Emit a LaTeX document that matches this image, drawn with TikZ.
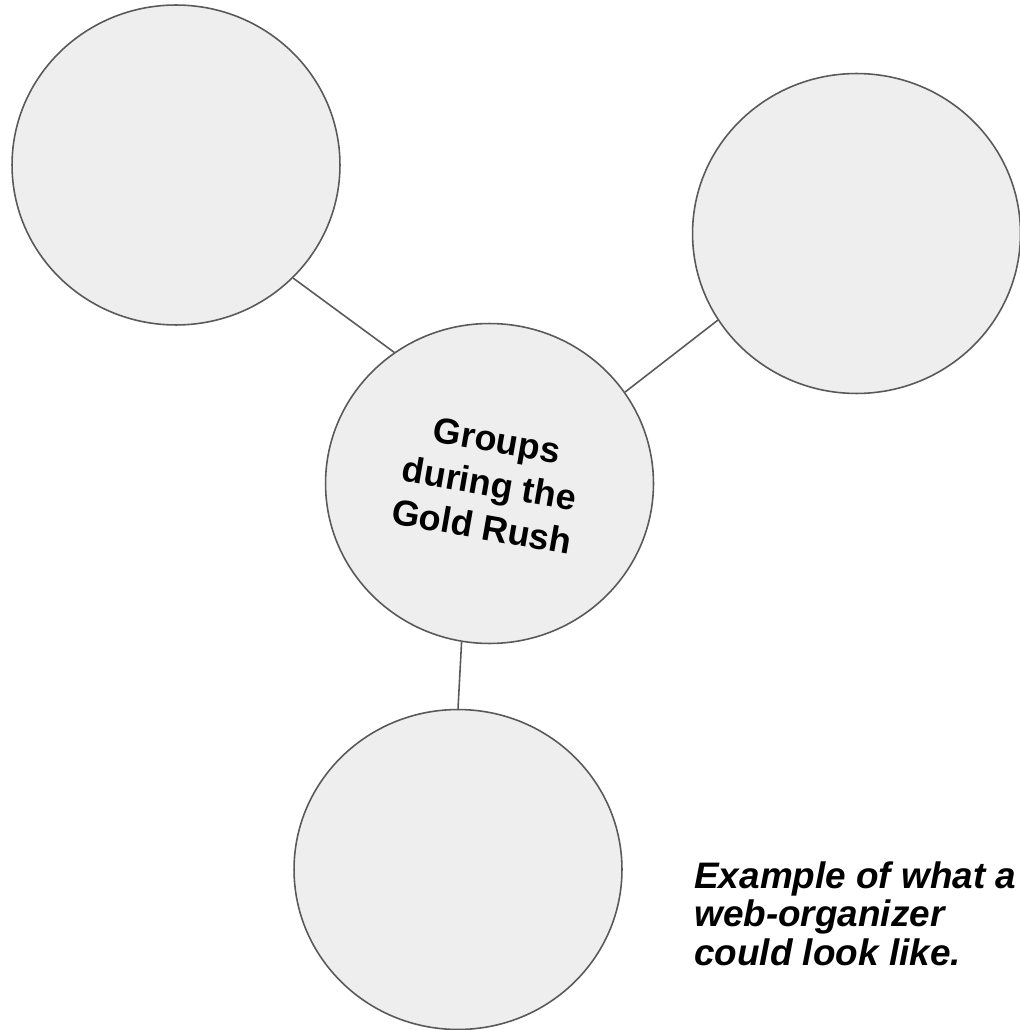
\documentclass[tikz,border=0pt]{standalone}
\usepackage{fontspec}
\setmainfont{Liberation Sans}
\usepackage{tikz}
\usetikzlibrary{shapes.geometric}
\definecolor{webfill}{HTML}{EEEEEE}
\definecolor{webline}{HTML}{595959}
\newcommand{\webcaptionfont}{%
	\fontsize{21}{21.8}\selectfont\setlength{\lineskiplimit}{-30pt}%
	\bfseries\itshape}

\begin{document}
\begin{tikzpicture}[
		x=0.02cm, y=-0.02cm,
		bubble/.style={ellipse, draw=webline, fill=webfill, line width=0.9pt,
			minimum width=6.56cm, minimum height=6.4cm, inner sep=0pt},
		link/.style={draw=webline, line width=0.9pt}
	]
	\useasboundingbox (0,0) rectangle (1019,1030);

	\node[bubble] (topleft) at (176,165) {};
	\node[bubble] (right) at (856.5,233.5) {};
	\node[bubble] (centre) at (489.5,483.5) {};
	\node[bubble] (bottom) at (458,869.5) {};

	\node[rotate=-10, align=center, font=\fontsize{20.5}{25}\selectfont\bfseries]
		(centretext) at (centre)
			{Groups\\during the\\Gold Rush};

	\draw[link]
		(topleft.-44) -- (centre.126)
		(right.212) -- (centre.34)
		(centre.260) -- (bottom.90);

	\node[anchor=base west, align=left, inner sep=0pt, font=\webcaptionfont]
		(caption) at (694,965)
			{Example of what a\\web-organizer\\could look like.};
\end{tikzpicture}
\end{document}
